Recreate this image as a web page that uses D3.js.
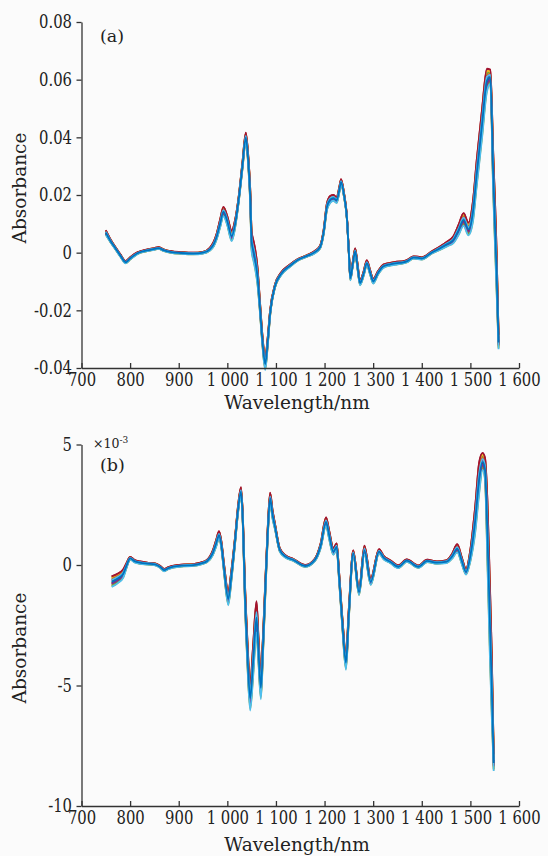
<!DOCTYPE html>
<html>
<head>
<meta charset="utf-8">
<script src="https://cdn.jsdelivr.net/npm/d3@7"></script>
<style>
  html, body { margin: 0; padding: 0; background: #fbfbfb; }
  svg { display: block; }
  svg text { fill: #222; }
</style>
</head>
<body>
<svg id="chart" width="548" height="856"></svg>
<script>
// ---------- DATA ----------
const xTicks = [700, 800, 900, 1000, 1100, 1200, 1300, 1400, 1500, 1600];
const xTickLabels = ["700", "800", "900", "1 000", "1 100", "1 200", "1 300", "1 400", "1 500", "1 600"];

const yTicksA = [0.08, 0.06, 0.04, 0.02, 0, -0.02, -0.04];
const yTickLabelsA = ["0.08", "0.06", "0.04", "0.02", "0", "-0.02", "-0.04"];
const yTicksB = [5, 0, -5, -10];
const yTickLabelsB = ["5", "0", "-5", "-10"];

// Panel (a): wavelength (nm), mean absorbance, half-width of the curve bundle
const nmA = [750,760,770,780,791,800,815,835,850,858,870,885,905,930,950,964,972,978,985,992,1000,1009,1016,1023,1031,1038,1043,1047,1050,1054,1057,1062,1067,1072,1078,1083,1088,1098,1110,1129,1145,1163,1180,1191,1198,1205,1212,1218,1225,1230,1234,1240,1246,1250,1253,1258,1263,1268,1273,1280,1287,1294,1300,1310,1321,1335,1349,1360,1369,1383,1392,1400,1420,1438,1452,1465,1476,1486,1496,1505,1513,1524,1534,1541,1547,1554,1558];
const absA = [0.0070,0.0040,0.0015,-0.0010,-0.0033,-0.0020,-0.0002,0.0008,0.0013,0.0016,0.0008,0.0002,-0.0001,-0.0003,0.0000,0.0012,0.0030,0.0056,0.0100,0.0143,0.0110,0.0058,0.0100,0.0180,0.0300,0.0400,0.0320,0.0200,0.0040,0.0005,-0.0020,-0.0080,-0.0186,-0.0300,-0.0385,-0.0310,-0.0210,-0.0116,-0.0075,-0.0045,-0.0025,-0.0012,0.0002,0.0020,0.0070,0.0160,0.0185,0.0190,0.0182,0.0215,0.0245,0.0200,0.0120,0.0000,-0.0088,-0.0040,0.0005,-0.0050,-0.0105,-0.0075,-0.0036,-0.0070,-0.0099,-0.0070,-0.0047,-0.0040,-0.0036,-0.0034,-0.0030,-0.0017,-0.0018,-0.0020,0.0000,0.0016,0.0030,0.0045,0.0080,0.0115,0.0082,0.0140,0.0276,0.0448,0.0598,0.0610,0.0276,-0.0069,-0.0310];
const spreadA = [0.0008,0.0005,0.0004,0.0004,0.0004,0.0004,0.0003,0.0003,0.0003,0.0003,0.0003,0.0003,0.0003,0.0003,0.0003,0.0005,0.0008,0.0010,0.0014,0.0016,0.0016,0.0018,0.0014,0.0010,0.0012,0.0016,0.0018,0.0025,0.0035,0.0035,0.0035,0.0030,0.0020,0.0018,0.0022,0.0015,0.0010,0.0006,0.0005,0.0004,0.0003,0.0003,0.0004,0.0005,0.0008,0.0012,0.0012,0.0010,0.0010,0.0010,0.0010,0.0008,0.0006,0.0006,0.0008,0.0008,0.0010,0.0010,0.0008,0.0008,0.0010,0.0008,0.0008,0.0006,0.0006,0.0005,0.0005,0.0004,0.0004,0.0004,0.0004,0.0004,0.0004,0.0006,0.0008,0.0012,0.0018,0.0022,0.0022,0.0035,0.0045,0.0050,0.0040,0.0025,0.0070,0.0070,0.0025];

// Panel (b): wavelength (nm), mean value (x1e-3), half-width of the bundle
const nmB = [762,775,786,793,800,810,820,835,851,862,870,879,889,910,930,945,958,970,977,983,988,993,1002,1008,1016,1022,1028,1032,1036,1041,1047,1053,1060,1064,1069,1073,1078,1083,1088,1093,1098,1108,1120,1136,1160,1180,1192,1203,1210,1218,1225,1230,1237,1244,1250,1259,1271,1282,1295,1312,1322,1335,1352,1369,1393,1411,1431,1451,1462,1473,1482,1491,1500,1510,1518,1525,1530,1535,1540,1544,1548];
const absB = [-0.69,-0.55,-0.35,0.00,0.28,0.15,0.10,0.06,0.03,-0.08,-0.21,-0.13,-0.07,-0.02,0.00,0.06,0.16,0.50,0.90,1.25,0.80,-0.10,-1.39,-0.50,1.04,2.30,3.05,1.80,-1.04,-3.50,-5.49,-4.00,-2.15,-3.50,-5.07,-3.50,-1.04,1.30,2.78,2.10,1.60,0.62,0.35,0.21,-0.04,0.21,0.80,1.80,1.20,0.56,0.76,-0.50,-2.50,-4.03,-2.00,0.49,-1.11,0.62,-0.69,0.56,0.30,0.14,-0.07,0.18,-0.07,0.17,0.10,0.14,0.35,0.69,0.20,-0.28,0.40,1.90,3.60,4.30,4.00,1.40,-2.20,-5.00,-8.20];
const spreadB = [0.22,0.20,0.17,0.10,0.06,0.05,0.05,0.04,0.04,0.04,0.05,0.04,0.04,0.04,0.04,0.04,0.05,0.10,0.14,0.15,0.15,0.18,0.28,0.22,0.15,0.15,0.18,0.22,0.40,0.50,0.55,0.65,0.65,0.55,0.50,0.40,0.30,0.22,0.22,0.18,0.12,0.07,0.05,0.04,0.04,0.05,0.10,0.18,0.18,0.14,0.14,0.18,0.22,0.32,0.22,0.12,0.14,0.18,0.14,0.10,0.07,0.06,0.06,0.05,0.05,0.05,0.05,0.06,0.10,0.17,0.14,0.12,0.25,0.55,0.65,0.35,0.45,1.30,1.50,1.30,0.35];

// Individual spectra: position of each one inside the bundle (-1 .. 1) and its colour
const curveFactors = [0.95, -0.9, 0.6, -0.55, 0.2, -0.25, 0.8, -0.75, 0.4, -0.4, 1.0, -1.0, 0.3, -0.05];
const curveColors = ["#A2142F","#EDB120","#77AC30","#D95319","#7E2F8E","#A2142F","#EDB120","#77AC30","#D95319","#7E2F8E","#A2142F","#4DBEEE","#4DBEEE","#0072BD"];

// ---------- DRAWING ----------
const svg = d3.select("#chart");
const X0 = 81.5, X1 = 519;
const FONT = "DejaVu Serif";
const SQ = 0.8; // horizontal squeeze of tick labels

function drawPanel(cfg) {
  const x = d3.scaleLinear().domain([700, 1600]).range([X0, X1]);
  const y = d3.scaleLinear().domain(cfg.yDomain).range(cfg.yRange);
  const g = svg.append("g").attr("font-family", FONT);

  const line = d3.line()
    .x(d => x(d[0]))
    .y(d => y(d[1]))
    .curve(d3.curveMonotoneX);
  curveFactors.forEach((f, i) => {
    const pts = cfg.nm.map((n, j) => [n, cfg.val[j] + f * cfg.spread[j]]);
    g.append("path")
      .attr("d", line(pts))
      .attr("fill", "none")
      .attr("stroke", curveColors[i])
      .attr("stroke-width", 1.8)
      .attr("stroke-linejoin", "round");
  });

  const yBase = cfg.yRange[0];
  const xAxis = d3.axisBottom(x).tickValues(xTicks)
    .tickFormat((d, i) => xTickLabels[i])
    .tickSizeInner(-5).tickSizeOuter(0).tickPadding(5);
  const gx = g.append("g").attr("transform", `translate(0,${yBase})`).call(xAxis)
    .attr("font-family", FONT);
  gx.select(".domain").attr("stroke", "#333").attr("stroke-width", 1.3);
  gx.selectAll(".tick line").attr("stroke", "#333").attr("stroke-width", 1.3);
  gx.selectAll(".tick text").attr("font-size", 18.5).attr("fill", "#222")
    .attr("transform", `scale(${SQ},1)`);

  const yAxis = d3.axisLeft(y).tickValues(cfg.yTicks)
    .tickFormat((d, i) => cfg.yLabels[i])
    .tickSizeInner(5).tickSizeOuter(0).tickPadding(4);
  const gy = g.append("g").attr("transform", `translate(${X0},0)`).call(yAxis)
    .attr("font-family", FONT);
  gy.select(".domain").attr("stroke", "#333").attr("stroke-width", 1.3);
  gy.selectAll(".tick line").attr("stroke", "#333").attr("stroke-width", 1.3);
  gy.selectAll(".tick text").attr("font-size", 18.5).attr("fill", "#222")
    .attr("x", -9.5 / SQ)
    .attr("transform", `scale(${SQ},1)`);

  g.append("text")
    .attr("x", 297).attr("y", cfg.xTitleY)
    .attr("text-anchor", "middle").attr("font-size", 18.5)
    .text("Wavelength/nm");
  g.append("text")
    .attr("transform", `translate(26,${cfg.yTitleCenter}) rotate(-90)`)
    .attr("text-anchor", "middle").attr("font-size", 18.5)
    .text("Absorbance");

  g.append("text")
    .attr("x", 100).attr("y", cfg.labelY)
    .attr("font-size", 17.5)
    .text(cfg.label);
  return g;
}

drawPanel({
  nm: nmA, val: absA, spread: spreadA,
  yDomain: [-0.04, 0.08], yRange: [368, 22],
  yTicks: yTicksA, yLabels: yTickLabelsA,
  xTitleY: 409, yTitleCenter: 188, label: "(a)", labelY: 42
});

const gb = drawPanel({
  nm: nmB, val: absB, spread: spreadB,
  yDomain: [-10, 5], yRange: [806, 444.5],
  yTicks: yTicksB, yLabels: yTickLabelsB,
  xTitleY: 851, yTitleCenter: 648, label: "(b)", labelY: 471
});

const ex = gb.append("text").attr("x", 93).attr("y", 448).attr("font-size", 12.5);
ex.append("tspan").text("×10");
ex.append("tspan").attr("font-size", 9).attr("dy", -5).text("-3");
</script>
</body>
</html>
